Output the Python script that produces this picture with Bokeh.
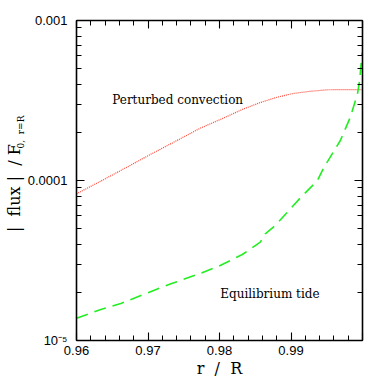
from bokeh.plotting import figure
from bokeh.models import (Range1d, FixedTicker, LinearAxis, LogAxis, Label,
                          CustomJSTickFormatter)
from bokeh.embed import file_html
from bokeh.resources import INLINE

# ---- data ----
r_conv = [0.9600, 0.9634, 0.9668, 0.9703, 0.9738, 0.9773, 0.9801, 0.9834,
          0.9857, 0.9881, 0.9903, 0.9927, 0.9951, 0.9976, 0.9999]
flux_conv = [8.26e-5, 9.91e-5, 1.195e-4, 1.452e-4, 1.754e-4, 2.123e-4, 2.405e-4,
             2.806e-4, 3.07e-4, 3.32e-4, 3.50e-4, 3.61e-4, 3.69e-4, 3.70e-4, 3.70e-4]

r_tide = [0.9600, 0.9634, 0.9662, 0.9697, 0.9732, 0.9773, 0.9801, 0.9832,
          0.9857, 0.9864, 0.9878, 0.9897, 0.9913, 0.9937, 0.9946, 0.9969,
          0.9983, 0.9993, 0.9996, 0.99985, 0.99995]
flux_tide = [1.378e-5, 1.563e-5, 1.703e-5, 1.967e-5, 2.261e-5, 2.624e-5, 2.944e-5,
             3.447e-5, 4.115e-5, 4.645e-5, 5.235e-5, 6.494e-5, 7.78e-5, 1.0e-4,
             1.206e-4, 1.778e-4, 2.489e-4, 3.483e-4, 4.217e-4, 5.623e-4, 6.31e-4]

x_major = [0.96, 0.97, 0.98, 0.99, 1.00]
x_tick_labels = ["0.96", "0.97", "0.98", "0.99", ""]
y_major = [1e-5, 1e-4, 1e-3]
y_tick_labels = ["10\u207b\u2075", "0.0001", "0.001"]

x_minor = [0.96 + 0.002 * i for i in range(21)]
y_minor = [m * d for d in (1e-5, 1e-4) for m in range(1, 11)]

NB = "\u00a0"
label_conv = "Perturbed convection"
label_tide = "Equilibrium tide"
x_title = "r" + NB * 2 + "/" + NB * 2 + "R"
y_title = "|" + NB * 2 + "flux" + NB + "|" + NB * 2 + "/" + NB + "F" + NB * 3
y_title_sub = "0," + NB * 2 + "r=R"

p = figure(frame_width=286, frame_height=320,
           x_range=Range1d(0.96, 1.0), y_range=Range1d(1e-5, 1e-3),
           y_axis_type="log", output_backend="svg", toolbar_location=None,
           min_border_left=76, min_border_right=20, min_border_top=20,
           min_border_bottom=42, background_fill_color="white",
           border_fill_color="white", outline_line_color=None)
p.grid.visible = False

p.line(r_conv, flux_conv, line_color="#ff4433", line_width=1.2, line_dash="1 1")
p.line(r_tide, flux_tide, line_color="#22ee22", line_width=1.6, line_dash="12 7")

xt = FixedTicker(ticks=x_major, minor_ticks=x_minor)
yt = FixedTicker(ticks=y_major, minor_ticks=y_minor)

xfmt = CustomJSTickFormatter(args=dict(vals=x_major, labs=x_tick_labels), code="""
let best = 0; let d = 1e9;
for (let i = 0; i < vals.length; i++) { const e = Math.abs(vals[i] - tick); if (e < d) { d = e; best = i; } }
return labs[best];
""")
yfmt = CustomJSTickFormatter(args=dict(vals=y_major, labs=y_tick_labels), code="""
let best = 0; let d = 1e9;
for (let i = 0; i < vals.length; i++) { const e = Math.abs(Math.log10(vals[i]) - Math.log10(tick)); if (e < d) { d = e; best = i; } }
return labs[best];
""")
blank = CustomJSTickFormatter(code="return '';")


def style(ax):
    ax.major_tick_in = 8
    ax.major_tick_out = 0
    ax.minor_tick_in = 5
    ax.minor_tick_out = 0
    ax.axis_line_color = "black"
    ax.axis_line_width = 1.6
    ax.major_tick_line_color = "black"
    ax.minor_tick_line_color = "black"
    ax.major_tick_line_width = 1.1
    ax.minor_tick_line_width = 1.0
    ax.major_label_text_font = "Liberation Sans"
    ax.major_label_text_font_size = "13px"
    ax.major_label_text_color = "black"
    ax.axis_label_text_font = "DejaVu Serif"
    ax.axis_label_text_font_style = "normal"
    ax.axis_label_text_font_size = "16px"
    ax.axis_label_text_color = "black"


xa = p.xaxis[0]
xa.ticker = xt
xa.formatter = xfmt
style(xa)
xa.major_label_standoff = 5
xa.axis_label = x_title
xa.axis_label_standoff = 1

ya = p.yaxis[0]
ya.ticker = yt
ya.formatter = yfmt
style(ya)
ya.major_label_standoff = 9
ya.axis_label = y_title
ya.axis_label_standoff = 1

top = LinearAxis(ticker=xt, formatter=blank)
style(top)
top.major_label_standoff = 0
top.major_label_text_font_size = "1px"
p.add_layout(top, "above")

right = LogAxis(ticker=yt, formatter=blank)
style(right)
right.major_label_standoff = 0
right.major_label_text_font_size = "1px"
p.add_layout(right, "right")

p.add_layout(Label(x=0.965, y=3.19e-4, text=label_conv, text_font="DejaVu Serif",
                   text_font_size="12px", text_color="black", text_baseline="alphabetic"))
p.add_layout(Label(x=0.9801, y=1.958e-5, text=label_tide, text_font="DejaVu Serif",
                   text_font_size="12px", text_color="black", text_baseline="alphabetic"))

# subscript of the y title (kept in the right side panel, so that it is not clipped)
p.add_layout(Label(x=-342, y=192, x_units="screen", y_units="screen", text=y_title_sub,
                   angle=90, angle_units="deg", text_font="DejaVu Serif",
                   text_font_size="9px", text_color="black", text_align="left",
                   text_baseline="alphabetic"), "right")

open("out.html", "w").write(file_html(p, INLINE))
